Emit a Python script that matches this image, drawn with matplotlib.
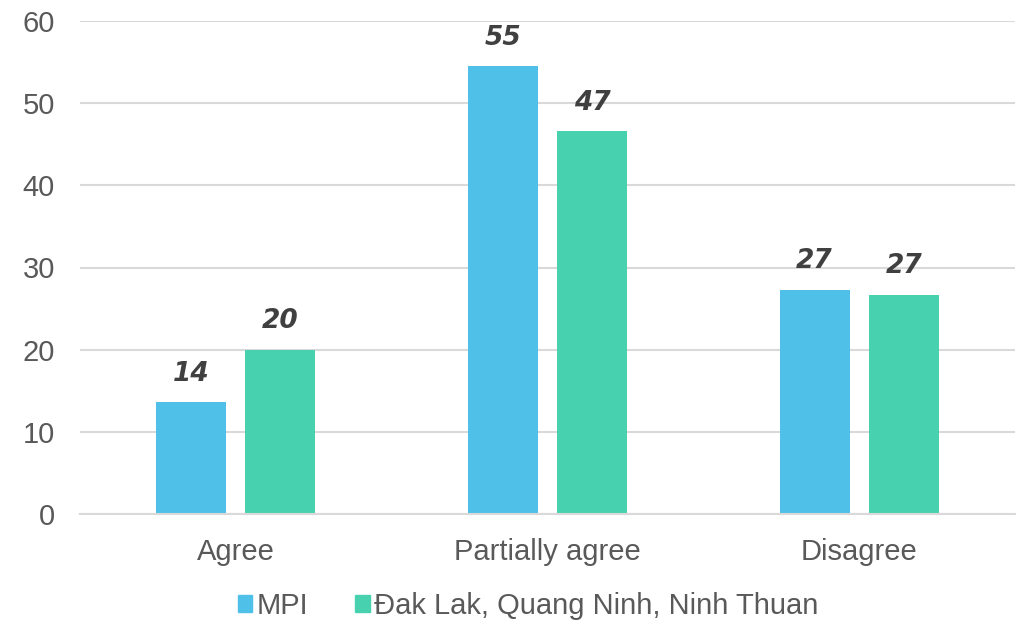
import numpy as np
import matplotlib
matplotlib.use('Agg')
import matplotlib.pyplot as plt
from matplotlib.patches import Patch

categories = ['Agree', 'Partially agree', 'Disagree']
series_names = ['MPI', 'Đak Lak, Quang Ninh, Ninh Thuan']
mpi = [13.6, 54.5, 27.3]
provinces = [20.0, 46.6, 26.7]
mpi_labels = ['14', '55', '27']
prov_labels = ['20', '47', '27']
yticks = [0, 10, 20, 30, 40, 50, 60]

blue = '#4FC0E8'
green = '#48D1AF'
gray = '#595959'

plt.rcParams['font.family'] = ['Liberation Sans', 'DejaVu Sans']

fig = plt.figure(figsize=(10.25, 6.21), dpi=100)
ax = fig.add_axes([80/1025, 1-514/621, 935/1025, 493/621])

x = np.arange(len(categories))
w = 0.225
off = 0.143
b1 = ax.bar(x - off, mpi, w, color=blue, zorder=3)
b2 = ax.bar(x + off, provinces, w, color=green, zorder=3)

for bars, labs in ((b1, mpi_labels), (b2, prov_labels)):
    for r, t in zip(bars, labs):
        ax.annotate(t, (r.get_x() + r.get_width()/2, r.get_height()),
                    xytext=(0, 11), textcoords='offset points',
                    ha='center', va='bottom', fontsize=19,
                    fontweight='heavy', fontstyle='italic',
                    family='DejaVu Sans', color='#404040')

ax.set_xlim(-0.5, 2.5)
ax.set_ylim(0, 60)
ax.set_yticks(yticks)
ax.set_xticks(x)
ax.set_xticklabels(categories)
ax.tick_params(axis='both', length=0, labelsize=21, labelcolor=gray)
ax.tick_params(axis='y', pad=18)
ax.tick_params(axis='x', pad=17)
ax.yaxis.grid(True, color='#D9D9D9', linewidth=1.5, zorder=0)
for s in ['top', 'right', 'left']:
    ax.spines[s].set_visible(False)
ax.spines['bottom'].set_color('#D9D9D9')
ax.spines['bottom'].set_linewidth(1.5)
ax.spines['bottom'].set_zorder(4)

handles = [Patch(color=blue), Patch(color=green)]
fig.legend(handles, series_names, loc='center', bbox_to_anchor=(528/1025, 1-606/621),
           ncol=2, frameon=False, fontsize=21, labelcolor=gray,
           handlelength=0.5, handleheight=0.5, handletextpad=0.15,
           columnspacing=1.6, borderpad=0)

fig.savefig('out.png', dpi=100)
